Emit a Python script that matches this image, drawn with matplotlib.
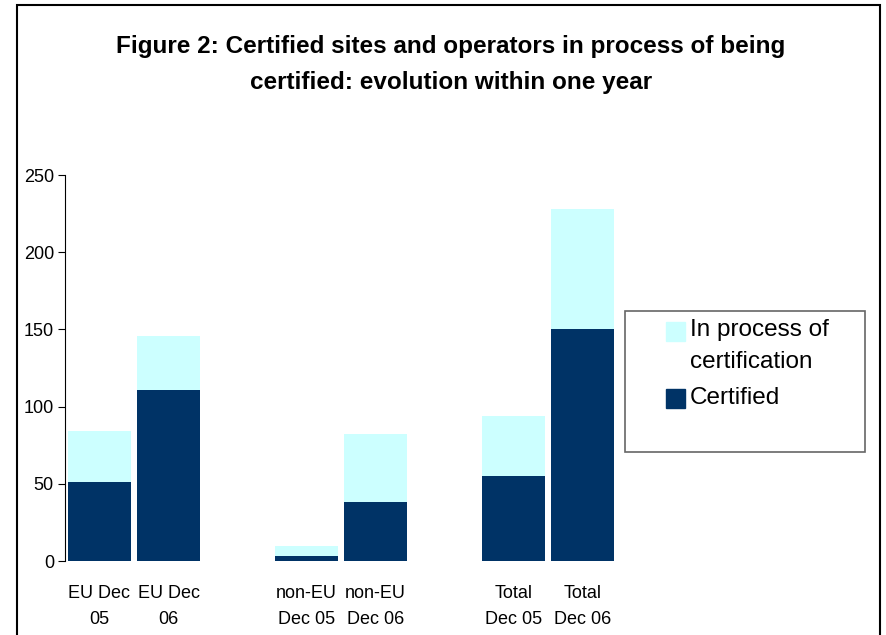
import matplotlib.pyplot as plt
from matplotlib.patches import Rectangle

plt.rcParams['font.family'] = ['Liberation Sans', 'DejaVu Sans']

# Data
labels = ["EU Dec\n05", "EU Dec\n06", "non-EU\nDec 05", "non-EU\nDec 06",
          "Total\nDec 05", "Total\nDec 06"]
positions = [0, 1, 3, 4, 6, 7]
certified = [51, 111, 3, 38, 55, 150]
in_process = [33, 35, 7, 44, 39, 78]

dark = "#003366"
light = "#CCFFFF"

fig = plt.figure(figsize=(8.86, 6.35), dpi=100)
ax = fig.add_axes([65 / 886, (635 - 561) / 635, (617 - 65) / 886, (561 - 175) / 635])

ax.bar(positions, certified, width=0.91, color=dark, label="Certified")
ax.bar(positions, in_process, width=0.91, bottom=certified, color=light,
       label="In process of\ncertification")

ax.set_xlim(-0.5, 7.5)
ax.set_ylim(0, 250)
ax.set_yticks(range(0, 251, 50))
ax.set_xticks(positions)
ax.set_xticklabels(labels, fontsize=13, linespacing=1.75)
ax.tick_params(axis="x", length=0, pad=17)
ax.tick_params(axis="y", direction="out", length=5, labelsize=13, pad=3)
for s in ["top", "right", "bottom"]:
    ax.spines[s].set_visible(False)

# legend, laid out by hand: Excel puts the swatch on the first text line
def px(x, y):
    return x / 886, 1 - y / 635

fig.patches.append(Rectangle(px(625, 452), 240 / 886, 141 / 635,
                             transform=fig.transFigure, fill=False,
                             edgecolor="#666666", linewidth=1.2))
fig.patches.append(Rectangle(px(666, 341), 19 / 886, 19 / 635,
                             transform=fig.transFigure, color=light))
fig.patches.append(Rectangle(px(666, 408), 19 / 886, 19 / 635,
                             transform=fig.transFigure, color=dark))
fig.text(*px(690, 330), "In process of", fontsize=17.5, va="center")
fig.text(*px(690, 362), "certification", fontsize=17.5, va="center")
fig.text(*px(690, 398), "Certified", fontsize=17.5, va="center")

fig.text(451 / 886, 1 - 64.5 / 635,
         "Figure 2: Certified sites and operators in process of being\ncertified: evolution within one year",
         ha="center", va="center", fontsize=17.5, fontweight="bold", linespacing=1.7)

fig.patches.append(Rectangle((17 / 886, -0.1), (880 - 17) / 886, 1.1 - 5 / 635,
                             transform=fig.transFigure, fill=False,
                             edgecolor="black", linewidth=1.5))

fig.savefig("out.png", dpi=100)
